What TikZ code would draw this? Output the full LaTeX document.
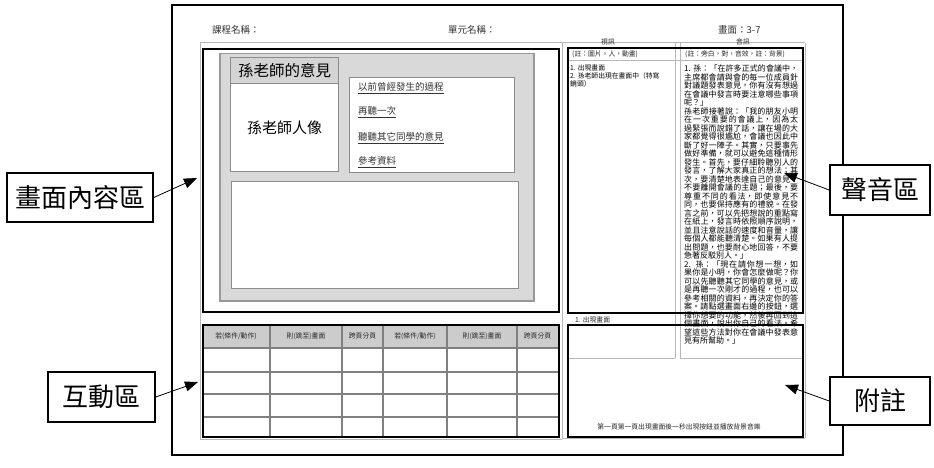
\documentclass[tikz,border=0pt]{standalone}
\usepackage{fontspec}
\setmainfont{Noto Sans CJK TC}
\usetikzlibrary{arrows.meta}
\XeTeXlinebreaklocale "zh"
\XeTeXlinebreakskip=0pt plus 1pt
\begin{document}
\begin{tikzpicture}[x=1pt,y=-1pt,
  labelbox/.style={draw=black, line width=1.6pt, fill=white, inner sep=0pt, font=\fontsize{26}{28}\selectfont},
  callarrow/.style={-{Triangle[length=13pt,width=10pt]}, line width=0.8pt},
  zonebox/.style={draw=black, line width=1.8pt, inner sep=0pt, anchor=north west},
  gridline/.style={draw=black!28, line width=1pt},
  innerbox/.style={draw=black!45, line width=1.4pt, fill=white, inner sep=0pt, anchor=north west},
  cellline/.style={draw=black!50, line width=1.1pt},
  hdr/.style={font=\fontsize{9.5}{11}\selectfont, inner sep=0pt, anchor=west, text=black!80},
  tinytext/.style={font=\fontsize{6.8}{8}\selectfont, inner sep=0pt, text=black!85},
  linktext/.style={font=\fontsize{9.5}{11}\selectfont, inner sep=0pt, anchor=west, text=black!80},
]
\fill[white] (0,0) rectangle (934,468);
\useasboundingbox (0,0) rectangle (934,468);

% page frame
\draw[line width=2pt] (172,5) rectangle (843,455);

% header texts
\node[hdr] (h1) at (212,30) {課程名稱：};
\node[hdr] (h2) at (448,30) {單元名稱：};
\node[hdr] (h3) at (718,30) {畫面：3-7};

% underlying gray grid
\draw[gridline] (200,43) -- (805,43);
\draw[gridline] (200,43) -- (200,439);
\draw[gridline] (562,43) -- (562,439);
\draw[gridline] (805,43) -- (805,438);
\draw[gridline] (200,439) -- (562,439);
\draw[gridline] (562,438) -- (805,438);
\draw[gridline] (567,61) -- (802,61);
\draw[gridline] (675,43) -- (675,358);
\draw[gridline] (680,43) -- (680,358);
\draw[gridline] (567,358) -- (675,358);
\draw[gridline] (680,358) -- (802,358);

% ---------- content area ----------
\node[draw=black!40, line width=1.5pt, fill=black!15, inner sep=0pt, anchor=north west,
      minimum width=314pt, minimum height=247pt] (panel) at (219,53) {};
\node[innerbox, fill=black!17, minimum width=108pt, minimum height=26pt,
      font=\fontsize{15.5}{17}\selectfont] (title) at (230,57) {孫老師的意見};
\node[innerbox, minimum width=108pt, minimum height=88pt,
      font=\fontsize{15}{17}\selectfont] (portrait) at (230,83) {孫老師人像};
\node[innerbox, minimum width=165pt, minimum height=95pt] (links) at (349,77) {};
\node[linktext] (k1) at (358,88) {\underline{以前曾經發生的過程}};
\node[linktext] (k2) at (358,112) {\underline{再聽一次}};
\node[linktext] (k3) at (358,138) {\underline{聽聽其它同學的意見}};
\node[linktext] (k4) at (358,162) {\underline{參考資料}};
\node[innerbox, minimum width=287pt, minimum height=107pt] (textbox) at (231,181) {};
\node[zonebox, minimum width=356pt, minimum height=263pt] (content) at (202,48) {};

% ---------- audio area ----------
\node[tinytext] (v1) at (608,42) {視訊};
\node[tinytext] (v2) at (743,42) {音訊};
\node[tinytext, anchor=west] (v3) at (572,54) {(註：圖片，人，動畫)};
\node[tinytext, anchor=west] (v4) at (685,54) {(註：旁白，對，音效，註：背景)};
\node[tinytext, anchor=north west, align=left, text=black] (vid) at (570,65)
  {1. 出現畫面\\2. 孫老師出現在畫面中（特寫\\鏡頭）};
\node[anchor=north west, text width=114pt, align=justify, inner sep=0pt,
      font=\fontsize{8}{8.5}\selectfont] (narr) at (684,65)
{1. 孫：「在許多正式的會議中，主席都會請與會的每一位成員針對議題發表意見，你有沒有想過在會議中發言時要注意哪些事項呢？」\par
孫老師接著說：「我的朋友小明在一次重要的會議上，因為太過緊張而說錯了話，讓在場的大家都覺得很尷尬，會議也因此中斷了好一陣子。其實，只要事先做好準備，就可以避免這種情形發生。首先，要仔細聆聽別人的發言，了解大家真正的想法；其次，要清楚地表達自己的意見，不要離開會議的主題；最後，要尊重不同的看法，即使意見不同，也要保持應有的禮貌。在發言之前，可以先把想說的重點寫在紙上，發言時依照順序說明，並且注意說話的速度和音量，讓每個人都能聽清楚。如果有人提出問題，也要耐心地回答，不要急著反駁別人。」\par
2. 孫：「現在請你想一想，如果你是小明，你會怎麼做呢？你可以先聽聽其它同學的意見，或是再聽一次剛才的過程，也可以參考相關的資料，再決定你的答案。請點選畫面右邊的按鈕，選擇你想要的功能，然後再回到這個畫面，說出你自己的看法。希望這些方法對你在會議中發表意見有所幫助。」};
\node[zonebox, minimum width=235pt, minimum height=265pt] (audio) at (567,47) {};

% ---------- interaction table ----------
\fill[black!20] (202,324) rectangle (558,348);
\foreach \yy in {348,372,394,417} \draw[cellline] (202,\yy) -- (558,\yy);
\foreach \xx in {270,342,383,447,517} \draw[cellline] (\xx,324) -- (\xx,436);
\node[tinytext] (c1) at (236,336) {若(條件/動作)};
\node[tinytext] (c2) at (306,336) {則(跳至)畫面};
\node[tinytext] (c3) at (362.5,336) {跨頁分頁};
\node[tinytext] (c4) at (415,336) {若(條件/動作)};
\node[tinytext] (c5) at (482,336) {則(跳至)畫面};
\node[tinytext] (c6) at (537.5,336) {跨頁分頁};
\node[zonebox, minimum width=356pt, minimum height=112pt] (inter) at (202,324) {};

% ---------- notes area ----------
\node[tinytext, anchor=west] (n0) at (575,320) {1. 出現畫面};
\node[tinytext] (n1) at (679,427) {第一頁第一頁出現畫面後一秒出現按鈕並播放背景音樂};
\node[zonebox, minimum width=235pt, minimum height=112pt] (notes) at (567,324) {};

% ---------- callout labels ----------
\node[labelbox, minimum width=146pt, minimum height=49pt] (L1) at (80,197.5) {畫面內容區};
\node[labelbox, minimum width=100pt, minimum height=50pt] (L2) at (880,190) {聲音區};
\node[labelbox, minimum width=107pt, minimum height=50pt] (L3) at (101.5,397) {互動區};
\node[labelbox, minimum width=100pt, minimum height=48pt] (L4) at (880,401) {附註};

\coordinate (t1) at (197,178);
\coordinate (t2) at (784,173);
\coordinate (t3) at (198,382);
\coordinate (t4) at (785,385);
\draw[callarrow] (L1.east) -- (t1);
\draw[callarrow] (L2.west) -- (t2);
\draw[callarrow] (L3.east) -- (t3);
\draw[callarrow] (L4.west) -- (t4);
\end{tikzpicture}
\end{document}
